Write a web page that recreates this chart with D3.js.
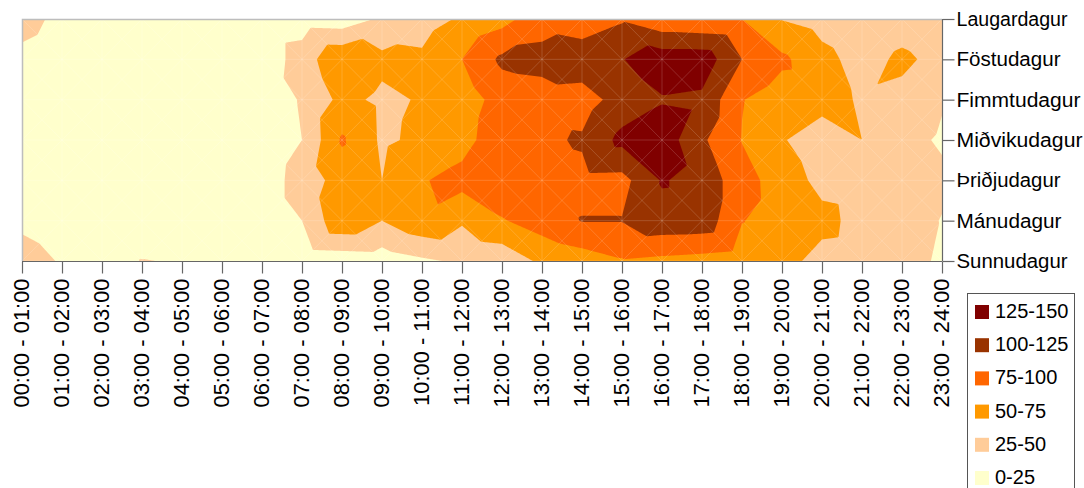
<!DOCTYPE html>
<html><head><meta charset="utf-8">
<script src="https://cdn.jsdelivr.net/npm/d3@7"></script>
<style>html,body{margin:0;padding:0;background:#fff;overflow:hidden}svg{display:block}text{font-family:"Liberation Sans",sans-serif;fill:#000}</style>
</head><body><svg id="c" width="1084" height="488"></svg>
<script>
const hours=["00:00 - 01:00","01:00 - 02:00","02:00 - 03:00","03:00 - 04:00","04:00 - 05:00","05:00 - 06:00","06:00 - 07:00","07:00 - 08:00","08:00 - 09:00","09:00 - 10:00","10:00 - 11:00","11:00 - 12:00","12:00 - 13:00","13:00 - 14:00","14:00 - 15:00","15:00 - 16:00","16:00 - 17:00","17:00 - 18:00","18:00 - 19:00","19:00 - 20:00","20:00 - 21:00","21:00 - 22:00","22:00 - 23:00","23:00 - 24:00"];
const days=["Laugardagur","Föstudagur","Fimmtudagur","Miðvikudagur","Þriðjudagur","Mánudagur","Sunnudagur"];
const laugardagur=[32,20,10,8,6,5,8,12,10,29,40,53,66,91,85,97,81,78,75,49,40,30,38,30];
const fostudagur=[20,14,10,8,5,5,8,37,72,56,54,75,105,107,115,124,140,140,100,80,58,40,55,42];
const fimmtudagur=[10,8,6,5,4,4,11,27,57,45,52,62,85,91,89,110,123,120,76,62,60,47,43,27];
const midvikudagur=[9,7,5,4,3,3,10,25,78,46,55,65,93,95,103,132,140,104,74,52,36,50,33,22];
const thridjudagur=[9,7,5,4,3,3,12,35,61,50,73,84,95,90,93,92,127,116,85,63,43,40,35,30];
const manudagur=[20,12,8,3,5,6,12,25,70,50,69,53,73,87,101,101,117,116,76,64,57,42,36,24];
const sunnudagur=[35,23,13,26,23,5,6,8,10,12,21,29,33,55,63,73,69,66,62,58,42,40,38,20];
const rows=[laugardagur,fostudagur,fimmtudagur,midvikudagur,thridjudagur,manudagur,sunnudagur];
const bandLabels=["125-150","100-125","75-100","50-75","25-50","0-25"];
const bandColors=["#800000","#993300","#FF6600","#FF9900","#FFCC99","#FFFFCC"];
const thresholds=[125,100,75,50,25,0];
const dayLabelWidths=[111,104,124,126,104,105,111];

const L=22,R=942,T=19,B=261,SUB=40;
const svg=d3.select("#c");
const x=d3.scalePoint().domain(hours).range([L,R]);
const y=d3.scalePoint().domain(days).range([T,B]);
const xi=d3.scaleLinear().domain([0,hours.length-1]).range([L,R]);
const yi=d3.scaleLinear().domain([0,days.length-1]).range([T,B]);

// Surface field: every cell is split by its diagonals into four flat facets.
function field(u,v){
  const i=Math.min(Math.floor(u),hours.length-2),j=Math.min(Math.floor(v),days.length-2);
  const s=u-i,t=v-j;
  const a=rows[j][i],b=rows[j][i+1],c=rows[j+1][i+1],d=rows[j+1][i],m=Math.max((a+c)/2,(b+d)/2);
  const down=t<=s, up=t<=1-s;
  if(down&&up){const q=2*t;return m*q+(a*(1-s-t)+b*(s-t));}
  if(!down&&!up){const q=2*(1-t);return m*q+(d*(t-s)+c*(s+t-1));}
  if(!down&&up){const q=2*s;return m*q+(a*(1-s-t)+d*(t-s));}
  const q=2*(1-s);return m*q+(b*(s-t)+c*(s+t-1));
}
const nx=(hours.length-1)*SUB+1,ny=(days.length-1)*SUB+1;
const vals=new Float64Array(nx*ny);
for(let q=0;q<ny;q++)for(let p=0;p<nx;p++)vals[q*nx+p]=field(p/SUB,q/SUB);

svg.append("clipPath").attr("id","plot").append("rect").attr("x",L).attr("y",T).attr("width",R-L).attr("height",B-T);
const proj=d3.geoTransform({point(px,py){this.stream.point(xi((px-.5)/SUB),yi((py-.5)/SUB));}});
const path=d3.geoPath(proj);
const contours=d3.contours().size([nx,ny]).smooth(true);
const g=svg.append("g").attr("clip-path","url(#plot)");
[...thresholds].reverse().forEach(th=>{
  const idx=thresholds.indexOf(th);
  g.append("path").attr("d",path(contours.contour(vals,th))).attr("fill",bandColors[idx]);
});

// facet mesh
const mesh=svg.append("g").attr("stroke","#fff").attr("stroke-opacity",.16).attr("stroke-width",1).attr("fill","none");
hours.forEach(h=>mesh.append("line").attr("x1",x(h)).attr("x2",x(h)).attr("y1",T).attr("y2",B));
days.forEach(d=>mesh.append("line").attr("x1",L).attr("x2",R).attr("y1",y(d)).attr("y2",y(d)));
for(let i=0;i<hours.length-1;i++)for(let j=0;j<days.length-1;j++){
  mesh.append("line").attr("x1",xi(i)).attr("y1",yi(j)).attr("x2",xi(i+1)).attr("y2",yi(j+1));
  mesh.append("line").attr("x1",xi(i+1)).attr("y1",yi(j)).attr("x2",xi(i)).attr("y2",yi(j+1));
}

// frame
svg.append("path").attr("d",`M${L+.5},${B}V${T+.5}H${R}`).attr("fill","none").attr("stroke","#bdbdbd").attr("stroke-width",1.5);

const ax=svg.append("g").attr("transform",`translate(0,${B+.5})`).call(d3.axisBottom(x).tickSize(12).tickPadding(5));
ax.selectAll("path,line").attr("stroke","#666").attr("stroke-width",1.2);
ax.select(".domain").attr("d",`M${L},0H${R}`);
ax.selectAll("text").attr("font-size",21.9).attr("font-family","Liberation Sans").attr("transform","rotate(-90)").attr("text-anchor","end").attr("dx",-17).attr("dy",0).attr("x",0).attr("y",-1.5).style("dominant-baseline","central");

const ay=svg.append("g").attr("transform",`translate(${R+.5},0)`).call(d3.axisRight(y).tickSize(12).tickPadding(2));
ay.selectAll("path,line").attr("stroke","#666").attr("stroke-width",1.2);
ay.select(".domain").attr("d",`M0,${T}V${B}`);
ay.selectAll("text").attr("font-size",20).attr("font-family","Liberation Sans")
  .attr("textLength",(d,i)=>dayLabelWidths[i]).attr("lengthAdjust","spacingAndGlyphs");

// legend
const lg=svg.append("g");
lg.append("rect").attr("x",967.5).attr("y",293.5).attr("width",107).attr("height",210).attr("fill","#fff").attr("stroke","#555").attr("stroke-width",1);
const ly=d3.scalePoint().domain(bandLabels).range([305,471]);
bandLabels.forEach((b,i)=>{
  lg.append("rect").attr("x",975).attr("y",ly(b)).attr("width",14).attr("height",14).attr("fill",bandColors[i]);
  lg.append("text").attr("x",995).attr("y",ly(b)+13).attr("font-size",20).text(b);
});
</script></body></html>
